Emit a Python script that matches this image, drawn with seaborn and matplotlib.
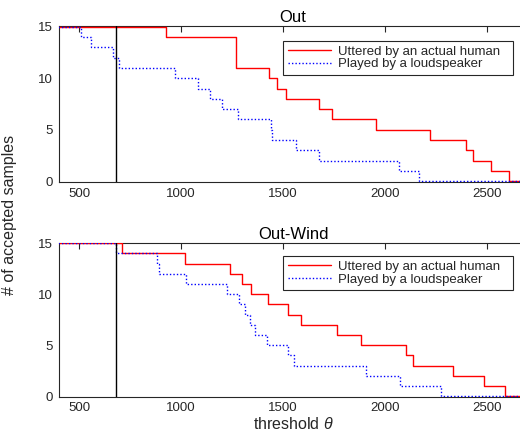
import matplotlib
matplotlib.use("Agg")
import matplotlib.pyplot as plt
import seaborn as sns
import pandas as pd

# ---- data ----
out_human_x = [0, 925, 1270, 1431, 1469, 1513, 1676, 1743, 1957, 2224, 2400, 2433, 2523, 2610, 3000]
out_human_y = [15, 14, 11, 10, 9, 8, 7, 6, 5, 4, 3, 2, 1, 0, 0]
out_speaker_x = [0, 507, 560, 665, 697, 970, 1082, 1142, 1199, 1281, 1440, 1448, 1564, 1678, 2070, 2167, 3000]
out_speaker_y = [15, 14, 13, 12, 11, 10, 9, 8, 7, 6, 5, 4, 3, 2, 1, 0, 0]

wind_human_x = [0, 711, 1018, 1238, 1298, 1341, 1426, 1527, 1588, 1766, 1884, 2103, 2139, 2334, 2486, 2590, 3000]
wind_human_y = [15, 14, 13, 12, 11, 10, 9, 8, 7, 6, 5, 4, 3, 2, 1, 0, 0]
wind_speaker_x = [0, 682, 884, 892, 1027, 1227, 1285, 1315, 1340, 1363, 1420, 1526, 1554, 1907, 2076, 2276, 3000]
wind_speaker_y = [15, 14, 13, 12, 11, 10, 9, 8, 7, 6, 5, 4, 3, 2, 1, 0, 0]

threshold_line = 680
titles = ["Out", "Out-Wind"]
labels = ["Uttered by an actual human", "Played by a loudspeaker"]
x_ticks = [500, 1000, 1500, 2000, 2500]
y_ticks = [0, 5, 10, 15]

sns.set_theme(style="white")
plt.rcParams["font.family"] = ["Liberation Sans", "DejaVu Sans"]
plt.rcParams["mathtext.fontset"] = "custom"
plt.rcParams["mathtext.it"] = "Liberation Sans:italic"
plt.rcParams["mathtext.rm"] = "Liberation Sans"

fig = plt.figure(figsize=(5.2, 4.34), dpi=100)
W, H = 520, 434
left_px = 58.7
right_px = 527.5
axes_px = [(26, 182), (242.7, 396.7)]
data = [
    (out_human_x, out_human_y, out_speaker_x, out_speaker_y),
    (wind_human_x, wind_human_y, wind_speaker_x, wind_speaker_y),
]
leg_tops = [0.9058, 0.9136]
leg_x0 = (283.3 - left_px) / (right_px - left_px)
leg_w = (513.3 - 283.3) / (right_px - left_px)

axes = []
for i, ((top, bot), (hx, hy, sx, sy)) in enumerate(zip(axes_px, data)):
    ax = fig.add_axes([left_px / W, 1 - bot / H, (right_px - left_px) / W, (bot - top) / H])
    axes.append(ax)
    dh = pd.DataFrame({"x": hx, "y": hy})
    ds = pd.DataFrame({"x": sx, "y": sy})
    sns.lineplot(data=dh, x="x", y="y", ax=ax, color=(1, 0, 0), lw=1.0,
                 drawstyle="steps-post", estimator=None, sort=False, label=labels[0],
                 zorder=3)
    sns.lineplot(data=ds, x="x", y="y", ax=ax, color=(0, 0, 1), lw=1.0,
                 linestyle=(0, (1, 1.5)), drawstyle="steps-post", estimator=None,
                 sort=False, label=labels[1], zorder=3.1)
    ax.axvline(threshold_line, color="black", lw=1.0, zorder=3.2)
    ax.set_xlim(400, 2700)
    ax.set_ylim(-0.06, 15.06)
    ax.set_xticks(x_ticks)
    ax.set_yticks(y_ticks)
    ax.set_xlabel("")
    ax.set_ylabel("")
    ax.set_title(titles[i], fontsize=12, color="black", pad=3)
    ax.tick_params(direction="in", length=4, width=0.8, top=True, right=True,
                   labelsize=9.5, colors="0.15", pad=4)
    for s in ax.spines.values():
        s.set_color("0.15")
        s.set_linewidth(0.8)
    leg = ax.legend(loc="upper left",
                    bbox_to_anchor=(leg_x0, leg_tops[i] - 0.5, leg_w, 0.5),
                    mode="expand",
                    fontsize=9.5, frameon=True, fancybox=False, framealpha=1,
                    edgecolor="0.15", handlelength=3.3, handletextpad=0.5,
                    labelspacing=0.05, borderpad=0.35, borderaxespad=0)
    leg.get_frame().set_linewidth(0.8)
    leg.set_zorder(5)

axes[1].set_xlabel("threshold $\\theta$", fontsize=11.5, labelpad=1.5, color="0.15")
fig.text(10 / W, 1 - 215 / H, "# of accepted samples", rotation=90,
         ha="center", va="center", fontsize=11.5, color="0.15")

fig.savefig("out.png", dpi=100)
